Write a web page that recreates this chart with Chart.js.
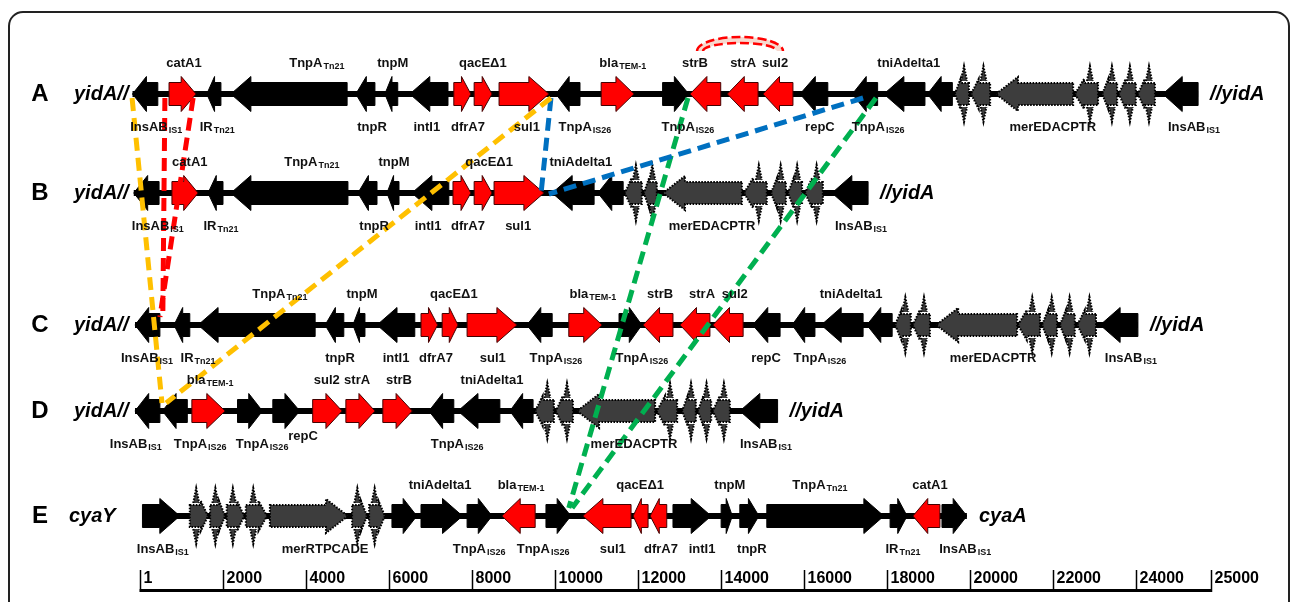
<!DOCTYPE html>
<html>
<head>
<meta charset="utf-8">
<script src="https://cdn.jsdelivr.net/npm/chart.js@4.4.1/dist/chart.umd.min.js"></script>
<style>
  html, body { margin: 0; padding: 0; background: #fff; }
  #wrap { width: 1292px; height: 602px; position: relative; }
</style>
</head>
<body>
<div id="wrap"><canvas id="map"></canvas></div>
<script>
// rows and their flanking names
const rowNames = ["A", "B", "C", "D", "E"];
const leftEnds = ["yidA//", "yidA//", "yidA//", "yidA//", "cyaY"];
const rightEnds = ["//yidA", "//yidA", "//yidA", "//yidA", "cyaA"];

// genes: [start bp, end bp, strand, kind]  kind: k = black, r = resistance (red), m = mer operon, s = small mer gene
const genesA = [
  [-170, 440, -1, "k"], [710, 1360, 1, "r"], [1620, 1960, -1, "k"], [2200, 5000, -1, "k"],
  [5210, 5670, -1, "k"], [5910, 6220, -1, "k"], [6510, 7430, -1, "k"], [7570, 7980, 1, "r"],
  [8060, 8490, 1, "r"], [8660, 9860, 1, "r"], [10030, 10610, -1, "k"], [11120, 11910, 1, "r"],
  [12600, 13230, 1, "k"], [13260, 14000, -1, "r"], [14160, 14900, -1, "r"], [15020, 15740, -1, "r"],
  [15910, 16580, -1, "k"], [17170, 17780, -1, "k"], [17930, 18920, -1, "k"], [18980, 19580, -1, "k"],
  [19640, 19980, -1, "s"], [20030, 20490, -1, "s"], [20630, 22490, -1, "m"], [22530, 23090, -1, "s"],
  [23190, 23550, -1, "s"], [23590, 24000, -1, "s"], [24050, 24460, -1, "s"], [24650, 25500, -1, "k"]
];
const genesB = [
  [-140, 470, -1, "k"], [780, 1410, 1, "r"], [1650, 2010, -1, "k"], [2200, 5020, -1, "k"],
  [5260, 5720, -1, "k"], [5960, 6250, -1, "k"], [6560, 7450, -1, "k"], [7550, 7980, 1, "r"],
  [8060, 8490, 1, "r"], [8540, 9740, 1, "r"], [9940, 10950, -1, "k"], [11040, 11650, -1, "k"],
  [11690, 12100, -1, "s"], [12150, 12460, -1, "s"], [12610, 14510, -1, "m"], [14560, 15110, -1, "s"],
  [15210, 15570, -1, "s"], [15620, 15960, -1, "s"], [16030, 16460, -1, "s"], [16680, 17550, -1, "k"]
];
const genesC = [
  [-110, 490, -1, "k"], [830, 1210, -1, "k"], [1410, 4230, -1, "k"], [4470, 4920, -1, "k"],
  [5140, 5430, -1, "k"], [5720, 6630, -1, "k"], [6780, 7180, 1, "r"], [7290, 7670, 1, "r"],
  [7890, 9090, 1, "r"], [9330, 9940, -1, "k"], [10340, 11140, 1, "r"], [11550, 12100, 1, "k"],
  [12130, 12850, -1, "r"], [13020, 13740, -1, "r"], [13810, 14540, -1, "r"], [14770, 15430, -1, "k"],
  [15720, 16270, -1, "k"], [16420, 17430, -1, "k"], [17520, 18130, -1, "k"], [18200, 18580, -1, "s"],
  [18630, 19040, -1, "s"], [19190, 21140, -1, "m"], [21160, 21690, -1, "s"], [21740, 22100, -1, "s"],
  [22170, 22530, -1, "s"], [22590, 23040, -1, "s"], [23140, 24050, -1, "k"]
];
const genesD = [
  [-110, 490, -1, "k"], [550, 1150, -1, "k"], [1260, 2060, 1, "r"], [2360, 2960, 1, "k"],
  [3210, 3860, 1, "k"], [4170, 4880, 1, "r"], [4970, 5670, 1, "r"], [5860, 6570, 1, "r"],
  [6970, 7570, -1, "k"], [7670, 8680, -1, "k"], [8920, 9480, -1, "k"], [9530, 9980, -1, "s"],
  [10030, 10440, -1, "s"], [10540, 12420, -1, "m"], [12460, 12950, -1, "s"], [13070, 13400, -1, "s"],
  [13450, 13770, -1, "s"], [13810, 14220, -1, "s"], [14460, 15370, -1, "k"]
];
const genesE = [
  [70, 970, 1, "k"], [1210, 1650, 1, "s"], [1700, 2060, 1, "s"], [2100, 2520, 1, "s"],
  [2560, 3070, 1, "s"], [3140, 5020, 1, "m"], [5120, 5480, 1, "s"], [5530, 5910, 1, "s"],
  [6080, 6680, 1, "k"], [6780, 7780, 1, "k"], [7890, 8490, 1, "k"], [8730, 9530, -1, "r"],
  [9790, 10390, 1, "k"], [10680, 11840, -1, "r"], [11890, 12250, -1, "r"], [12300, 12700, -1, "r"],
  [12850, 13770, 1, "k"], [14010, 14280, 1, "k"], [14460, 14920, 1, "k"], [15110, 17930, 1, "k"],
  [18080, 18490, 1, "k"], [18630, 19280, -1, "r"], [19330, 19930, 1, "k"]
];

// labels: [name, subscript, bp, side]  side: a = above, b = below, m = just under the arrow
const labelsA = [
  ["catA1", "", 1070, "a"], ["TnpA", "Tn21", 4270, "a"], ["tnpM", "", 6100, "a"], ["qacEΔ1", "", 8270, "a"],
  ["bla", "TEM-1", 11640, "a"], ["strB", "", 13380, "a"], ["strA", "", 14540, "a"], ["sul2", "", 15310, "a"],
  ["tniAdelta1", "", 18530, "a"],
  ["InsAB", "IS1", 400, "b"], ["IR", "Tn21", 1870, "b"], ["tnpR", "", 5600, "b"], ["intI1", "", 6920, "b"],
  ["dfrA7", "", 7910, "b"], ["sul1", "", 9330, "b"], ["TnpA", "IS26", 10730, "b"], ["TnpA", "IS26", 13210, "b"],
  ["repC", "", 16390, "b"], ["TnpA", "IS26", 17790, "b"], ["merEDACPTR", "", 22000, "b"], ["InsAB", "IS1", 25400, "b"]
];
const labelsB = [
  ["catA1", "", 1210, "a"], ["TnpA", "Tn21", 4150, "a"], ["tnpM", "", 6130, "a"], ["qacEΔ1", "", 8420, "a"],
  ["tniAdelta1", "", 10630, "a"],
  ["InsAB", "IS1", 440, "b"], ["IR", "Tn21", 1960, "b"], ["tnpR", "", 5650, "b"], ["intI1", "", 6950, "b"],
  ["dfrA7", "", 7910, "b"], ["sul1", "", 9120, "b"], ["merEDACPTR", "", 13790, "b"], ["InsAB", "IS1", 17380, "b"]
];
const labelsC = [
  ["TnpA", "Tn21", 3380, "a"], ["tnpM", "", 5360, "a"], ["qacEΔ1", "", 7570, "a"], ["bla", "TEM-1", 10920, "a"],
  ["strB", "", 12540, "a"], ["strA", "", 13550, "a"], ["sul2", "", 14340, "a"], ["tniAdelta1", "", 17140, "a"],
  ["InsAB", "IS1", 180, "b"], ["IR", "Tn21", 1410, "b"], ["tnpR", "", 4830, "b"], ["intI1", "", 6180, "b"],
  ["dfrA7", "", 7140, "b"], ["sul1", "", 8510, "b"], ["TnpA", "IS26", 10030, "b"], ["TnpA", "IS26", 12100, "b"],
  ["repC", "", 15090, "b"], ["TnpA", "IS26", 16390, "b"], ["merEDACPTR", "", 20560, "b"], ["InsAB", "IS1", 23880, "b"]
];
const labelsD = [
  ["bla", "TEM-1", 1700, "a"], ["sul2", "", 4510, "a"], ["strA", "", 5240, "a"], ["strB", "", 6250, "a"],
  ["tniAdelta1", "", 8490, "a"], ["repC", "", 3940, "m"],
  ["InsAB", "IS1", -90, "b"], ["TnpA", "IS26", 1460, "b"], ["TnpA", "IS26", 2950, "b"], ["TnpA", "IS26", 7650, "b"],
  ["merEDACPTR", "", 11910, "b"], ["InsAB", "IS1", 15090, "b"]
];
const labelsE = [
  ["tniAdelta1", "", 7240, "a"], ["bla", "TEM-1", 9190, "a"], ["qacEΔ1", "", 12060, "a"], ["tnpM", "", 14220, "a"],
  ["TnpA", "Tn21", 16390, "a"], ["catA1", "", 19040, "a"],
  ["InsAB", "IS1", 560, "b"], ["merRTPCADE", "", 4470, "b"], ["TnpA", "IS26", 8180, "b"], ["TnpA", "IS26", 9720, "b"],
  ["sul1", "", 11400, "b"], ["dfrA7", "", 12560, "b"], ["intI1", "", 13550, "b"], ["tnpR", "", 14750, "b"],
  ["IR", "Tn21", 18390, "b"], ["InsAB", "IS1", 19890, "b"]
];

// homologous junctions between maps: [from row, bp, to row, bp, colour, end at]
const links = [
  ["A", -180, "D", 540, "#ffc000", "top"],
  ["A", 9910, "D", 640, "#ffc000", "top"],
  ["A", 610, "C", 560, "#ff0000", "top"],
  ["A", 1290, "C", 490, "#ff0000", "top"],
  ["A", 9910, "B", 9670, "#0070c0", "mid"],
  ["A", 17430, "B", 9860, "#0070c0", "mid"],
  ["A", 13210, "E", 10340, "#00b050", "top"],
  ["A", 17740, "E", 10420, "#00b050", "top"]
];

// recombination arc over strB-sul2 in map A
const arcSpan = [13430, 15500];

// scale bar
const rulerTicks = [1, 2000, 4000, 6000, 8000, 10000, 12000, 14000, 16000, 18000, 20000, 22000, 24000, 25810];
const rulerLabels = ["1", "2000", "4000", "6000", "8000", "10000", "12000", "14000", "16000", "18000", "20000", "22000", "24000", "25000"];

const genesByRow = { A: genesA, B: genesB, C: genesC, D: genesD, E: genesE };
const labelsByRow = { A: labelsA, B: labelsB, C: labelsC, D: labelsD, E: labelsE };

const rowY = { A: 94, B: 193, C: 325, D: 411, E: 516 };
const FONT = "'Liberation Sans', Arial, sans-serif";
const RED = "#ff0000";
const MER = "#3d3d3d";

function arrowPath(ctx, x1, x2, dir, y, bodyH, headH, headLen) {
  const hl = Math.min(headLen, (x2 - x1) * 0.55);
  ctx.beginPath();
  if (dir > 0) {
    ctx.moveTo(x1, y - bodyH);
    ctx.lineTo(x2 - hl, y - bodyH);
    ctx.lineTo(x2 - hl, y - headH);
    ctx.lineTo(x2, y);
    ctx.lineTo(x2 - hl, y + headH);
    ctx.lineTo(x2 - hl, y + bodyH);
    ctx.lineTo(x1, y + bodyH);
  } else {
    ctx.moveTo(x2, y - bodyH);
    ctx.lineTo(x1 + hl, y - bodyH);
    ctx.lineTo(x1 + hl, y - headH);
    ctx.lineTo(x1, y);
    ctx.lineTo(x1 + hl, y + headH);
    ctx.lineTo(x1 + hl, y + bodyH);
    ctx.lineTo(x2, y + bodyH);
  }
  ctx.closePath();
}

function drawGene(ctx, g, y, xs) {
  const x1 = xs.getPixelForValue(g[0]);
  const x2 = xs.getPixelForValue(g[1]);
  const dir = g[2];
  const kind = g[3];
  ctx.save();
  if (kind === "k" || kind === "r") {
    arrowPath(ctx, x1, x2, dir, y, 11.5, 17.5, 20);
    ctx.fillStyle = kind === "r" ? RED : "#000";
    ctx.fill();
    ctx.lineWidth = 1;
    ctx.strokeStyle = kind === "r" ? "#400" : "#000";
    ctx.stroke();
  } else if (kind === "m") {
    arrowPath(ctx, x1, x2, dir, y, 11, 17, 22);
    ctx.fillStyle = MER;
    ctx.fill();
    ctx.setLineDash([1.6, 1.4]);
    ctx.lineWidth = 2;
    ctx.strokeStyle = "#000";
    ctx.stroke();
  } else {
    const len = x2 - x1;
    arrowPath(ctx, x1, x2, dir, y, 11, 15, len * 0.4);
    ctx.fillStyle = MER;
    ctx.fill();
    ctx.setLineDash([1.6, 1.4]);
    ctx.lineWidth = 2;
    ctx.strokeStyle = "#000";
    ctx.stroke();
    // thin spike of the small mer genes
    const sx = dir > 0 ? x1 + len * 0.35 : x2 - len * 0.35;
    ctx.beginPath();
    ctx.moveTo(sx - 3, y - 13);
    ctx.lineTo(sx, y - 28);
    ctx.lineTo(sx + 3, y - 13);
    ctx.moveTo(sx - 3, y + 13);
    ctx.lineTo(sx, y + 28);
    ctx.lineTo(sx + 3, y + 13);
    ctx.fill();
    ctx.stroke();
  }
  ctx.restore();
}

function drawLabel(ctx, name, sub, cx, cy) {
  ctx.font = "bold 13px " + FONT;
  const w1 = ctx.measureText(name).width;
  ctx.font = "bold 9px " + FONT;
  const w2 = sub ? ctx.measureText(sub).width + 1 : 0;
  const left = cx - (w1 + w2) / 2;
  ctx.fillStyle = "#111";
  ctx.textAlign = "left";
  ctx.textBaseline = "middle";
  ctx.font = "bold 13px " + FONT;
  ctx.fillText(name, left, cy);
  if (sub) {
    ctx.font = "bold 9px " + FONT;
    ctx.fillText(sub, left + w1 + 1, cy + 4);
  }
}

const mapPlugin = {
  id: "geneMap",
  beforeDatasetsDraw(chart) {
    const ctx = chart.ctx;
    const xs = chart.scales.x;
    const ys = chart.scales.y;

    // frame
    ctx.save();
    ctx.strokeStyle = "#222";
    ctx.lineWidth = 2;
    ctx.beginPath();
    ctx.roundRect(9, 12, 1280, 610, 14);
    ctx.stroke();
    ctx.restore();

    rowNames.forEach(r => {
      const gs = genesByRow[r];
      const y = ys.getPixelForValue(rowY[r]);
      const xa = xs.getPixelForValue(gs[0][0]);
      const xb = xs.getPixelForValue(gs[gs.length - 1][1]);
      ctx.save();
      ctx.fillStyle = "#000";
      ctx.fillRect(xa, y - 3, xb - xa, 6);
      ctx.restore();
      gs.forEach(g => drawGene(ctx, g, y, xs));
    });

    // arc
    const ax1 = xs.getPixelForValue(arcSpan[0]);
    const ax2 = xs.getPixelForValue(arcSpan[1]);
    const acx = (ax1 + ax2) / 2;
    const arx = (ax2 - ax1) / 2;
    const acy = ys.getPixelForValue(rowY.A) - 43;
    ctx.save();
    ctx.beginPath();
    ctx.ellipse(acx, acy, arx - 3, 11, 0, Math.PI, 2 * Math.PI);
    ctx.strokeStyle = "#f7d9cf";
    ctx.lineWidth = 6;
    ctx.stroke();
    ctx.setLineDash([9, 4]);
    ctx.strokeStyle = RED;
    ctx.lineWidth = 2.5;
    ctx.beginPath();
    ctx.ellipse(acx, acy, arx, 14, 0, Math.PI, 2 * Math.PI);
    ctx.stroke();
    ctx.beginPath();
    ctx.ellipse(acx, acy, arx - 6, 8, 0, Math.PI, 2 * Math.PI);
    ctx.stroke();
    ctx.restore();
  },
  afterDatasetsDraw(chart) {
    const ctx = chart.ctx;
    const xs = chart.scales.x;
    const ys = chart.scales.y;
    ctx.save();
    rowNames.forEach((r, i) => {
      const y = ys.getPixelForValue(rowY[r]);
      const gs = genesByRow[r];
      ctx.fillStyle = "#000";
      ctx.textBaseline = "middle";
      ctx.textAlign = "center";
      ctx.font = "bold 24px " + FONT;
      ctx.fillText(r, 40, y);
      ctx.textAlign = "left";
      ctx.font = "italic bold 20px " + FONT;
      ctx.fillText(leftEnds[i], r === "E" ? 69 : 74, y);
      ctx.fillText(rightEnds[i], xs.getPixelForValue(gs[gs.length - 1][1]) + 12, y);

      labelsByRow[r].forEach(l => {
        const dy = l[3] === "a" ? -31 : (l[3] === "m" ? 25 : 33);
        drawLabel(ctx, l[0], l[1], xs.getPixelForValue(l[2]), y + dy);
      });
    });

    // scale bar
    ctx.strokeStyle = "#000";
    ctx.fillStyle = "#000";
    ctx.lineWidth = 1.5;
    rulerTicks.forEach((t, i) => {
      const x = Math.round(xs.getPixelForValue(t)) + 0.5;
      ctx.beginPath();
      ctx.moveTo(x, 570);
      ctx.lineTo(x, 592);
      ctx.stroke();
      ctx.font = "bold 16px " + FONT;
      ctx.textAlign = "left";
      ctx.textBaseline = "middle";
      ctx.fillText(rulerLabels[i], x + 3, 579);
    });
    const r0 = xs.getPixelForValue(rulerTicks[0]);
    const r1 = xs.getPixelForValue(rulerTicks[rulerTicks.length - 1]);
    ctx.fillRect(r0, 589, r1 - r0, 3);
    ctx.restore();
  }
};

const linkDatasets = links.map(l => ({
  data: [
    { x: l[1], y: rowY[l[0]] + 4 },
    { x: l[3], y: rowY[l[2]] + (l[5] === "mid" ? 1 : -8) }
  ],
  borderColor: l[4],
  borderWidth: 5,
  borderDash: [13, 7],
  pointRadius: 0,
  showLine: true,
  fill: false
}));

new Chart(document.getElementById("map").getContext("2d"), {
  type: "scatter",
  data: { datasets: linkDatasets },
  options: {
    animation: false,
    responsive: true,
    maintainAspectRatio: false,
    events: [],
    layout: { padding: 0 },
    plugins: { legend: { display: false }, tooltip: { enabled: false } },
    scales: {
      x: { type: "linear", min: -3362, max: 27762, display: false },
      y: { type: "linear", min: 0, max: 602, reverse: true, display: false }
    }
  },
  plugins: [mapPlugin]
});
</script>
</body>
</html>
